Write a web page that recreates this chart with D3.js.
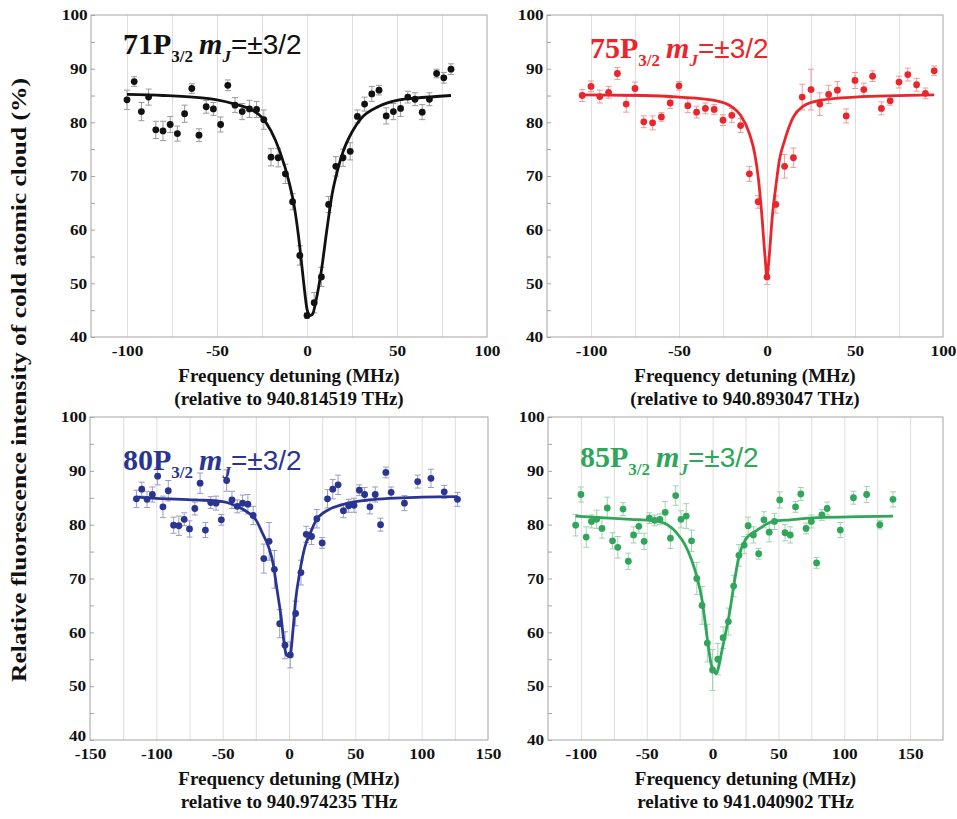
<!doctype html>
<html lang="en">
<head>
<meta charset="utf-8">
<title>Rydberg P3/2 resonances</title>
<script src="https://d3js.org/d3.v7.min.js"></script>
<style>
  body { margin: 0; background: #fff; }
  svg text { font-family: "Liberation Serif", "Times New Roman", serif; font-weight: bold; }
  .tick text { transform-box: fill-box; transform-origin: center; transform: scaleX(1.15); }
</style>
</head>
<body>
<div id="chart"></div>
<script>

// ---- data ----

// 71P3/2
var x71 = [-100,-96,-92,-88,-84,-80,-76,-72,-68,-64,-60,-56,-52,-48,-44,-40,-36,-32,-28,-24,-20,-16,-12,-8,-4,0,4,8,12,16,20,24,28,32,36,40,44,48,52,56,60,64,68,72,76,80];
var y71 = [84.2,87.6,82.0,84.7,78.6,78.4,79.6,77.9,81.6,86.3,77.6,82.9,82.5,79.6,86.9,83.2,82.0,82.5,82.4,80.5,73.5,73.4,70.4,65.2,55.2,44.0,46.4,51.2,64.7,71.8,73.4,74.6,81.1,83.4,85.3,86.0,81.2,82.0,82.6,84.7,84.3,81.9,84.3,89.1,88.3,89.9];
var err71 = [1.8,0.9,1.7,1.5,1.6,1.8,1.5,1.4,1.6,0.9,1.2,1.2,1.2,1.4,1.0,1.4,1.5,1.6,1.5,1.8,1.6,1.7,1.8,1.5,1.8,0.5,1.9,1.8,1.5,1.8,1.6,1.6,1.2,1.3,1.4,0.9,1.5,1.5,1.5,1.1,1.2,1.4,1.2,0.8,1.0,1.0];
var fitX71 = [-100,-80,-60,-50,-40,-30,-25,-20,-15,-10,-7,-4,-2,0,1.5,3,5,8,11,14,17,20,25,30,40,50,60,80];
var fitY71 = [85.2,85.0,84.6,84.2,83.4,82.2,80.9,78.4,74.5,68.9,64.2,56.8,50.6,45.2,44.0,44.2,46.8,52.4,59.9,66.7,71.1,74.5,78.2,80.7,83.0,84.1,84.5,85.0];

// 75P3/2
var x75 = [-105,-100,-95,-90,-85,-80,-75,-70,-65,-60,-55,-50,-45,-40,-35,-30,-25,-20,-15,-10,-5,0,5,10,15,20,25,30,35,40,45,50,55,60,65,70,75,80,85,90,95];
var y75 = [85.0,86.7,84.8,85.6,89.1,83.4,86.3,80.1,79.9,81.0,83.6,86.8,83.1,81.9,82.6,82.4,80.4,81.3,79.4,70.4,65.2,51.2,64.7,71.8,73.4,84.7,86.1,83.4,85.2,86.0,81.2,87.8,86.1,88.6,82.6,84.0,87.5,88.9,87.0,85.4,89.6];
var err75 = [1.1,1.0,1.2,1.1,1.1,1.5,1.2,1.1,1.3,0.8,1.0,0.8,1.3,1.1,1.0,0.9,1.0,1.3,1.3,1.4,1.2,1.4,1.6,2.2,1.8,2.4,3.8,2.1,1.7,1.6,1.3,1.5,1.2,1.0,1.2,0.8,1.1,1.2,1.2,1.0,0.9];
var fitX75 = [-105,-70,-50,-30,-20,-15,-10,-7,-5,-3,-1,0,1,3,5,7,10,15,20,30,50,95];
var fitY75 = [85.1,85.0,84.7,84.1,82.9,81.3,77.9,74.2,69.8,63.0,54.5,51.2,54.0,62.4,68.0,72.9,76.6,81.0,82.9,84.1,84.7,85.1];

// 80P3/2
var x80 = [-115,-111,-107,-103,-99,-95,-91,-87,-83,-79,-75,-71,-67,-63,-59,-55,-51,-47,-43,-39,-35,-31,-27,-19,-15,-11,-7,-3,1,5,9,13,17,21,25,29,33,37,41,45,49,53,57,61,65,69,73,77,87,97,107,117,127];
var y80 = [84.8,86.6,84.7,85.6,89.0,83.3,86.3,79.9,79.8,81.0,79.2,83.0,87.7,79.0,84.1,84.0,80.9,88.2,84.6,83.4,84.0,83.8,81.7,73.7,76.9,71.7,61.6,57.6,55.8,63.5,71.1,78.2,77.8,81.1,76.6,84.8,86.6,87.4,82.6,83.5,83.6,86.4,85.6,83.3,85.6,80.0,89.7,86.0,84.0,88.0,88.6,86.1,84.7];
var err80 = [1.6,1.3,1.5,1.4,1.6,2.0,1.9,1.5,1.8,1.2,1.5,1.2,1.9,1.4,1.1,1.3,1.0,2.0,1.6,1.2,1.5,1.8,1.7,2.7,3.5,3.5,2.6,2.5,2.4,2.3,2.3,1.5,1.5,1.7,1.0,1.7,1.8,1.8,1.3,1.2,1.3,1.0,1.3,1.3,1.4,1.2,1.0,1.0,1.4,1.2,1.7,1.2,1.3];
var fitX80 = [-115,-100,-70,-50,-40,-30,-25,-20,-15,-12,-9,-6,-4,-2,0,1,3,5,8,12,16,20,30,40,60,100,127];
var fitY80 = [85.1,84.9,84.6,84.3,83.5,82.1,80.9,78.4,75.6,72.8,67.9,62.9,58.6,55.8,55.5,55.8,60.4,66.0,71.0,75.9,78.4,80.6,82.8,83.7,84.6,85.1,85.2];

// 85P3/2
var x85 = [-104,-100,-96,-92,-88,-84,-80,-76,-72,-68,-64,-60,-56,-52,-48,-44,-40,-36,-32,-28,-24,-20,-16,-12,-8,-4,0,4,8,12,16,20,24,27,31,35,39,43,47,51,55,59,63,67,71,75,79,83,87,97,107,117,127,137];
var y85 = [79.9,85.6,77.7,80.6,81.0,79.3,83.1,77.0,75.8,82.9,73.2,78.1,79.7,76.9,81.2,80.8,81.0,82.3,77.5,85.4,81.0,81.6,77.0,70.0,65.0,58.0,53.0,55.0,59.0,62.0,68.6,74.3,76.2,79.8,78.1,74.6,80.9,78.6,80.6,84.6,78.5,78.1,83.3,85.7,79.3,80.6,72.9,81.8,83.0,79.0,85.0,85.6,80.0,84.7];
var err85 = [2.0,1.4,1.9,1.2,1.7,1.8,2.0,1.5,2.0,1.2,1.5,1.5,1.3,1.5,1.0,1.0,1.0,2.0,1.9,1.8,1.6,2.3,2.0,3.0,3.5,3.5,3.8,2.9,2.0,2.5,2.0,2.0,1.6,1.6,1.5,1.0,1.5,1.8,1.5,1.5,1.5,1.5,1.0,1.2,1.0,1.2,1.0,1.0,1.2,1.4,1.2,1.5,0.8,1.4];
var fitX85 = [-104,-62,-47,-37,-27,-21,-16,-12,-8,-4,-1,1,2.5,4,7,10,13,16,20,25,34,46,59,80,137];
var fitY85 = [81.6,81.0,80.8,80.3,78.4,76.3,73.5,70.4,66.0,58.8,54.0,52.8,52.3,53.0,56.5,60.0,63.8,68.5,74.1,77.2,79.0,80.6,80.9,81.3,81.6];

// axis ticks
var yTicks = [40,50,60,70,80,90,100];
var yMinorTicks = [45,55,65,75,85,95];
var xTicks71 = [-100,-50,0,50,100];
var xTicks75 = [-100,-50,0,50,100];
var xTicks80 = [-150,-100,-50,0,50,100,150];
var xTicks85 = [-100,-50,0,50,100,150];
var grid71 = [-100,-75,-50,-25,0,25,50,75];
var grid75 = [-100,-75,-50,-25,0,25,50,75];
var grid80 = [-125,-100,-75,-50,-25,0,25,50,75,100,125];
var grid85 = [-100,-75,-50,-25,0,25,50,75,100,125,150];

// labels
var stateLabels = ["71P", "75P", "80P", "85P"];
var refLabels = ["(relative to 940.814519 THz)", "(relative to 940.893047 THz)",
                 "relative to 940.974235 THz", "relative to 941.040902 THz"];
var xTitle = "Frequency detuning (MHz)";
var yTitle = "Relative fluorescence intensity of cold atomic cloud (%)";

// ---- layout ----
var width = 957;
var height = 819;

var svg = d3.select("#chart").append("svg")
    .attr("width", width)
    .attr("height", height);

svg.append("rect").attr("width", width).attr("height", height).attr("fill", "#fff");

var panels = [
    {x: x71, y: y71, err: err71, fitX: fitX71, fitY: fitY71, ticks: xTicks71, grid: grid71,
     domain: [-120, 100], left: 91, top: 15, w: 396, h: 322, liftBottom: 0,
     color: "#111111", errColor: "#9a9a9a", titleX: 32, titleY: 39, label: 0},
    {x: x75, y: y75, err: err75, fitX: fitX75, fitY: fitY75, ticks: xTicks75, grid: grid75,
     domain: [-125, 100], left: 547, top: 15, w: 396, h: 322, liftBottom: 0,
     color: "#e8262b", errColor: "#f09a9a", titleX: 43, titleY: 43, label: 1},
    {x: x80, y: y80, err: err80, fitX: fitX80, fitY: fitY80, ticks: xTicks80, grid: grid80,
     domain: [-150, 150], left: 90, top: 417, w: 398, h: 323, liftBottom: 4,
     color: "#2a3592", errColor: "#9a9cc4", titleX: 33, titleY: 53, label: 2},
    {x: x85, y: y85, err: err85, fitX: fitX85, fitY: fitY85, ticks: xTicks85, grid: grid85,
     domain: [-125, 175], left: 548, top: 417, w: 395, h: 323, liftBottom: 0,
     color: "#2fa65a", errColor: "#9fd3b0", titleX: 32, titleY: 50, label: 3}
];

function drawPanel(p) {
    var g = svg.append("g")
        .attr("transform", "translate(" + p.left + "," + p.top + ")");

    var x = d3.scaleLinear().domain(p.domain).range([0, p.w]);
    var y = d3.scaleLinear().domain([40, 100]).range([p.h, 0]);

    // vertical grid lines
    g.append("g")
        .attr("transform", "translate(0," + p.h + ")")
        .call(d3.axisBottom(x).tickValues(p.grid).tickSize(-p.h).tickFormat(""))
        .call(function(a) { a.select(".domain").remove(); })
        .selectAll("line").attr("stroke", "#e2dcdc");

    // minor y ticks, inward
    g.append("g")
        .call(d3.axisLeft(y).tickValues(yMinorTicks).tickSize(-4).tickFormat(""))
        .call(function(a) { a.select(".domain").remove(); })
        .selectAll("line").attr("stroke", "#a8a2a2");

    // major y ticks and labels
    var yAxis = g.append("g")
        .call(d3.axisLeft(y).tickValues(yTicks).tickSizeInner(-4).tickSizeOuter(0).tickPadding(5)
            .tickFormat(function(d) { return String(d); }))
        .attr("font-family", null).attr("font-size", 15).attr("color", "#111");
    yAxis.select(".domain").remove();
    yAxis.selectAll("line").attr("stroke", "#a8a2a2");
    // bottom-left panel: "40" sits a little higher, clear of "-150"
    yAxis.selectAll(".tick text").filter(function(d) { return d === 40; })
        .attr("y", -p.liftBottom);

    // x labels
    var xAxis = g.append("g")
        .attr("transform", "translate(0," + p.h + ")")
        .call(d3.axisBottom(x).tickValues(p.ticks).tickSize(0).tickPadding(8)
            .tickFormat(function(d) { return String(d); }))
        .attr("font-family", null).attr("font-size", 15).attr("color", "#111");
    xAxis.select(".domain").remove();

    // frame
    g.append("rect")
        .attr("width", p.w).attr("height", p.h)
        .attr("fill", "none").attr("stroke", "#a8a2a2").attr("stroke-width", 1);

    var pts = p.x.map(function(d, i) { return {x: d, y: p.y[i], e: p.err[i]}; });

    // error bars
    var eb = g.append("g").attr("stroke", p.errColor).attr("stroke-width", 1);
    eb.selectAll("line.v").data(pts).enter().append("line")
        .attr("x1", function(d) { return x(d.x); }).attr("x2", function(d) { return x(d.x); })
        .attr("y1", function(d) { return y(d.y - d.e); }).attr("y2", function(d) { return y(d.y + d.e); });
    eb.selectAll("line.t").data(pts).enter().append("line")
        .attr("x1", function(d) { return x(d.x) - 3; }).attr("x2", function(d) { return x(d.x) + 3; })
        .attr("y1", function(d) { return y(d.y + d.e); }).attr("y2", function(d) { return y(d.y + d.e); });
    eb.selectAll("line.b").data(pts).enter().append("line")
        .attr("x1", function(d) { return x(d.x) - 3; }).attr("x2", function(d) { return x(d.x) + 3; })
        .attr("y1", function(d) { return y(d.y - d.e); }).attr("y2", function(d) { return y(d.y - d.e); });

    // fit curve
    var fit = p.fitX.map(function(d, i) { return [d, p.fitY[i]]; });
    var line = d3.line()
        .x(function(d) { return x(d[0]); })
        .y(function(d) { return y(d[1]); })
        .curve(d3.curveMonotoneX);
    g.append("path")
        .attr("d", line(fit))
        .attr("fill", "none")
        .attr("stroke", p.color)
        .attr("stroke-width", 2.8);

    // data points
    g.selectAll("circle").data(pts).enter().append("circle")
        .attr("cx", function(d) { return x(d.x); })
        .attr("cy", function(d) { return y(d.y); })
        .attr("r", 3.4)
        .attr("fill", p.color);

    // state label
    var t = g.append("text")
        .attr("x", p.titleX).attr("y", p.titleY)
        .attr("font-size", 30).attr("fill", p.color);
    t.append("tspan").text(stateLabels[p.label]);
    t.append("tspan").attr("font-size", 17).attr("dy", 8).text("3/2");
    t.append("tspan").attr("dx", 6).attr("dy", -8).attr("font-style", "italic").text("m");
    t.append("tspan").attr("font-size", 17).attr("dy", 8).attr("font-style", "italic").text("J");
    t.append("tspan").attr("dy", -8)
        .style("font-family", "'Liberation Sans', Arial, sans-serif")
        .style("font-weight", "normal")
        .attr("font-size", 28).text("=\u00b13/2");

    // x axis title
    g.append("text")
        .attr("x", p.w / 2).attr("y", p.h + 45)
        .attr("text-anchor", "middle").attr("font-size", 19).attr("fill", "#111")
        .text(xTitle);
    g.append("text")
        .attr("x", p.w / 2).attr("y", p.h + 68)
        .attr("text-anchor", "middle").attr("font-size", 19).attr("fill", "#111")
        .text(refLabels[p.label]);
}

panels.forEach(drawPanel);

// shared y title
svg.append("text")
    .attr("transform", "translate(26,380) rotate(-90)")
    .attr("text-anchor", "middle")
    .attr("font-size", 22)
    .attr("fill", "#111")
    .attr("textLength", 604)
    .attr("lengthAdjust", "spacingAndGlyphs")
    .text(yTitle);

</script>
</body>
</html>
